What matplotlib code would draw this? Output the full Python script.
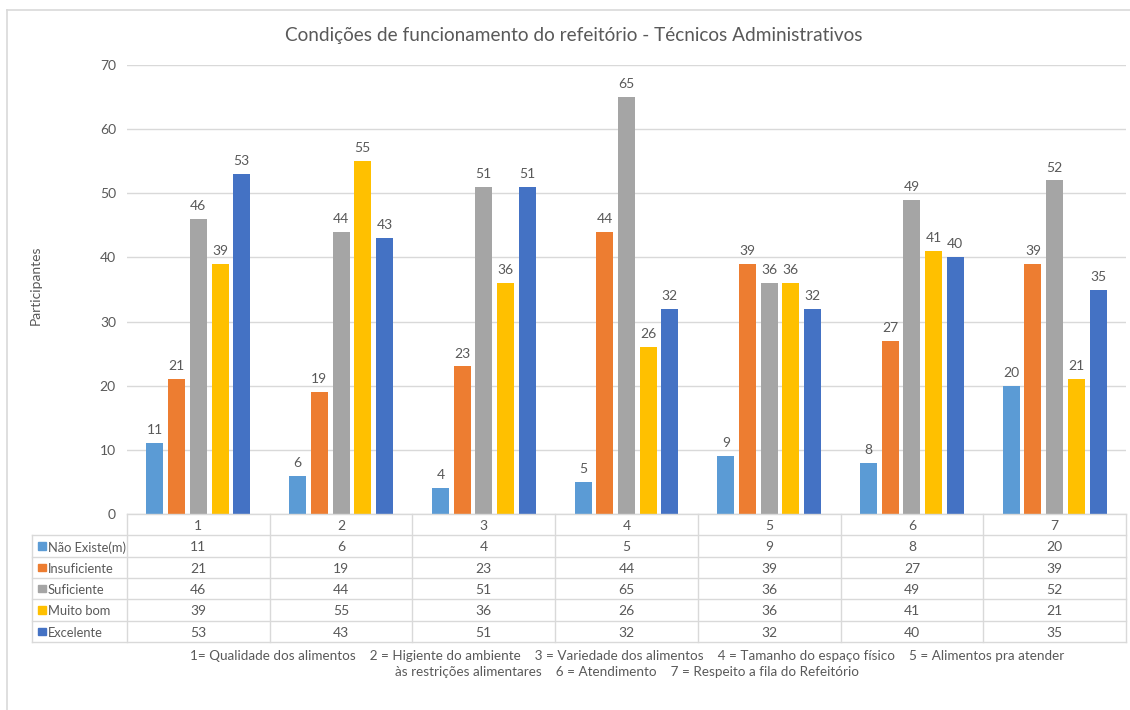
import matplotlib
matplotlib.use("Agg")
import matplotlib.pyplot as plt
from matplotlib.patches import Rectangle
from matplotlib.lines import Line2D

categories = ["1", "2", "3", "4", "5", "6", "7"]
series_names = ["Não Existe(m)", "Insuficiente", "Suficiente", "Muito bom", "Excelente"]
nao_existe = [11, 6, 4, 5, 9, 8, 20]
insuficiente = [21, 19, 23, 44, 39, 27, 39]
suficiente = [46, 44, 51, 65, 36, 49, 52]
muito_bom = [39, 55, 36, 26, 36, 41, 21]
excelente = [53, 43, 51, 32, 32, 40, 35]
series = [nao_existe, insuficiente, suficiente, muito_bom, excelente]
colors = ["#5B9BD5", "#ED7D31", "#A5A5A5", "#FFC000", "#4472C4"]
yticks = [0, 10, 20, 30, 40, 50, 60, 70]
title = "Condições de funcionamento do refeitório - Técnicos Administrativos"
ylabel = "Participantes"
footnote = ("1= Qualidade dos alimentos    2 = Higiente do ambiente    3 = Variedade dos alimentos    "
            "4 = Tamanho do espaço físico    5 = Alimentos pra atender\n"
            "às restrições alimentares    6 = Atendimento    7 = Respeito a fila do Refeitório")

plt.rcParams["font.family"] = ["Lato", "DejaVu Sans"]
TXT = "#595959"
GRID = "#D9D9D9"
FS = 10

W, H = 1130, 710
fig = plt.figure(figsize=(W / 100, H / 100), dpi=100)

def fx(px):
    return px / W

def fy(py):
    return 1 - py / H

# outer border (left and top visible)
fig.add_artist(Line2D([fx(7), fx(7)], [fy(10), fy(712)], color=GRID, lw=1.2, transform=fig.transFigure))
fig.add_artist(Line2D([fx(7), fx(1130)], [fy(10), fy(10)], color=GRID, lw=1.2, transform=fig.transFigure))

x0, x1, ytop, ybot = 127, 1126, 65, 514
ax = fig.add_axes([fx(x0), fy(ybot), fx(x1 - x0), (ybot - ytop) / H])
n = len(categories)
pitch = 0.152
bw = 0.119
for i, (vals, c) in enumerate(zip(series, colors)):
    xs = [k + (i - 2) * pitch for k in range(n)]
    ax.bar(xs, vals, width=bw, color=c, zorder=3)
    for x, v in zip(xs, vals):
        ax.annotate(str(v), (x, v), xytext=(0, 5), textcoords="offset points",
                    ha="center", va="bottom", fontsize=FS, color=TXT)
ax.set_xlim(-0.5, n - 0.5)
ax.set_ylim(0, 70)
ax.set_yticks(yticks)
ax.set_xticks([])
ax.tick_params(axis="y", length=0, pad=8, labelsize=FS, labelcolor=TXT)
ax.grid(axis="y", color=GRID, lw=1, zorder=0)
for s in ax.spines.values():
    s.set_visible(False)
fig.text(fx(36), fy(285), ylabel, rotation=90, ha="center", va="center", fontsize=FS, color=TXT)

# title
fig.text(fx(574), fy(35), title, ha="center", va="center", fontsize=13.7, color=TXT)

# data table
ppu = (x1 - x0) / n
lab_left = 32
tx0 = -0.5 - (x0 - lab_left) / ppu
tab_bot = 642
tax = fig.add_axes([fx(lab_left), fy(tab_bot), fx(x1 - lab_left), (tab_bot - ybot) / H])
tax.set_xlim(tx0, n - 0.5)
tax.set_ylim(6, 0)
tax.axis("off")
lk = dict(color=GRID, lw=1, clip_on=False)
tax.plot([-0.5, n - 0.5], [0, 0], **lk)
for r in range(1, 7):
    tax.plot([tx0, n - 0.5], [r, r], **lk)
tax.plot([tx0, tx0], [1, 6], **lk)
for k in range(n + 1):
    tax.plot([k - 0.5, k - 0.5], [0, 6], **lk)
for k, cat in enumerate(categories):
    tax.text(k, 0.52, cat, ha="center", va="center_baseline", fontsize=FS, color=TXT)
for r, (name, vals, c) in enumerate(zip(series_names, series, colors), start=1):
    kx = tx0 + 6 / ppu
    tax.add_patch(Rectangle((kx, r + 0.5 - 0.17), 7.5 / ppu, 0.34, color=c, clip_on=False))
    tax.text(kx + 10 / ppu, r + 0.52, name, ha="left", va="center_baseline", fontsize=9.3, color=TXT)
    for k, v in enumerate(vals):
        tax.text(k, r + 0.52, str(v), ha="center", va="center_baseline", fontsize=FS, color=TXT)

fig.text(fx(627), fy(664), footnote, ha="center", va="center", fontsize=9.7,
         color=TXT, linespacing=1.3)

fig.savefig("out.png", dpi=100)
